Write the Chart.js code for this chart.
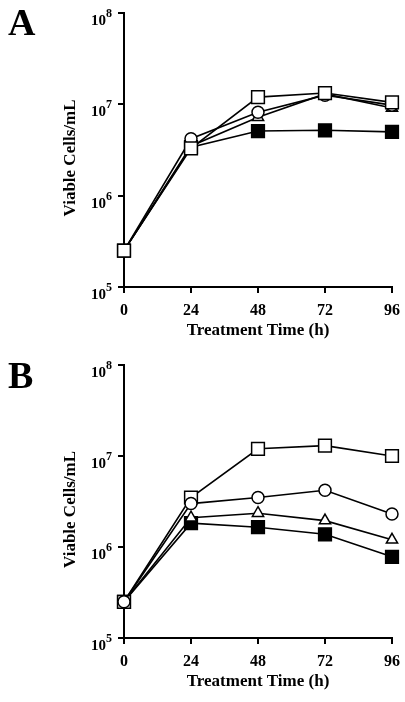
<!DOCTYPE html>
<html>
<head>
<meta charset="utf-8">
<script src="https://cdn.jsdelivr.net/npm/chart.js@4.4.0/dist/chart.umd.min.js"></script>
<style>
  html, body { margin: 0; padding: 0; background: #fff; }
  canvas { display: block; }
</style>
</head>
<body>
<canvas id="chartA" width="405" height="351"></canvas>
<canvas id="chartB" width="405" height="351"></canvas>
<script>
// x categories (hours) and tick labels
const hours = [0, 24, 48, 72, 96];
const yTickValues = [1e5, 1e6, 1e7, 1e8];
const yTickExps = ['5', '6', '7', '8'];
const xTitle = 'Treatment Time (h)';
const yTitle = 'Viable Cells/mL';

// panel A
const aOpenSquare = [2.5e5, 3.3e6, 1.2e7, 1.33e7, 1.05e7];
const aCircle     = [2.5e5, 4.2e6, 8.2e6, 1.26e7, 9.8e6];
const aTriangle   = [2.5e5, 3.5e6, 7.2e6, 1.3e7, 9.1e6];
const aFilled     = [2.5e5, 3.4e6, 5.1e6, 5.2e6, 5.0e6];

// panel B
const bOpenSquare = [2.5e5, 3.5e6, 1.2e7, 1.3e7, 1.0e7];
const bCircle     = [2.5e5, 3.0e6, 3.5e6, 4.2e6, 2.3e6];
const bTriangle   = [2.5e5, 2.1e6, 2.35e6, 1.95e6, 1.2e6];
const bFilled     = [2.5e5, 1.83e6, 1.65e6, 1.38e6, 7.8e5];

const FONT = '"Liberation Serif", "Times New Roman", serif';

// draws panel letter, y tick labels (10 with exponent) and axis titles
const decor = {
  id: 'decor',
  afterDraw(chart, args, opts) {
    const ctx = chart.ctx;
    const x = chart.scales.x, y = chart.scales.y;
    ctx.save();
    ctx.fillStyle = '#000';

    ctx.font = 'bold 38px ' + FONT;
    ctx.textAlign = 'left';
    ctx.textBaseline = 'alphabetic';
    ctx.fillText(opts.letter, 8, opts.letterY);

    yTickValues.forEach((v, i) => {
      const py = y.getPixelForValue(v);
      ctx.font = 'bold 15px ' + FONT;
      ctx.textAlign = 'right';
      ctx.textBaseline = 'middle';
      ctx.fillText('10', 106, py + 8);
      ctx.font = 'bold 12px ' + FONT;
      ctx.textAlign = 'left';
      ctx.fillText(yTickExps[i], 106, py + 1);
    });

    // x title: baseline about 48px under the axis line
    ctx.font = 'bold 17px ' + FONT;
    ctx.textAlign = 'center';
    ctx.textBaseline = 'alphabetic';
    ctx.fillText(xTitle, (x.left + x.right) / 2, x.top + 48);

    ctx.textBaseline = 'middle';
    ctx.translate(71, (y.top + y.bottom) / 2 + 8);
    ctx.rotate(-Math.PI / 2);
    ctx.fillText(yTitle, 0, 0);
    ctx.restore();
  }
};

function series(data, style, radius, filled) {
  return {
    data: data,
    borderColor: '#000',
    borderWidth: 1.6,
    pointStyle: style,
    pointRadius: radius,
    pointHoverRadius: radius,
    pointBorderWidth: 1.5,
    pointBorderColor: '#000',
    pointBackgroundColor: filled ? '#000' : '#fff',
    tension: 0,
    clip: false
  };
}

function makeChart(id, letter, letterY, top, sets) {
  return new Chart(document.getElementById(id), {
    type: 'line',
    data: { labels: hours, datasets: sets },
    plugins: [decor],
    options: {
      responsive: false,
      animation: false,
      layout: { padding: { left: 0, right: 13, top: top, bottom: 0 } },
      plugins: {
        legend: { display: false },
        tooltip: { enabled: false },
        decor: { letter: letter, letterY: letterY }
      },
      scales: {
        x: {
          type: 'linear',
          min: 0,
          max: 96,
          afterFit(s) {
            s.height = 64;
            s.paddingLeft = 0;
            s.paddingRight = 0;
          },
          afterBuildTicks(s) { s.ticks = hours.map(v => ({ value: v })); },
          grid: { drawOnChartArea: false, color: '#000', lineWidth: 2, tickLength: 6 },
          border: { color: '#000', width: 2 },
          ticks: {
            color: '#000',
            padding: 8,
            font: { family: FONT, size: 16, weight: 'bold' }
          }
        },
        y: {
          type: 'logarithmic',
          min: 1e5,
          max: 1e8,
          afterFit(s) { s.width = 124; },
          afterBuildTicks(s) { s.ticks = yTickValues.map(v => ({ value: v, major: true })); },
          grid: { drawOnChartArea: false, color: '#000', lineWidth: 2, tickLength: 6 },
          border: { color: '#000', width: 2 },
          ticks: { display: false }
        }
      }
    }
  });
}

// dataset 0 is drawn on top
makeChart('chartA', 'A', 35, 13, [
  series(aOpenSquare, 'rect', 9, false),
  series(aCircle, 'circle', 6, false),
  series(aTriangle, 'triangle', 6.5, false),
  series(aFilled, 'rect', 9, true)
]);

makeChart('chartB', 'B', 37, 14, [
  series(bCircle, 'circle', 6, false),
  series(bOpenSquare, 'rect', 9, false),
  series(bTriangle, 'triangle', 6.5, false),
  series(bFilled, 'rect', 9, true)
]);
</script>
</body>
</html>
